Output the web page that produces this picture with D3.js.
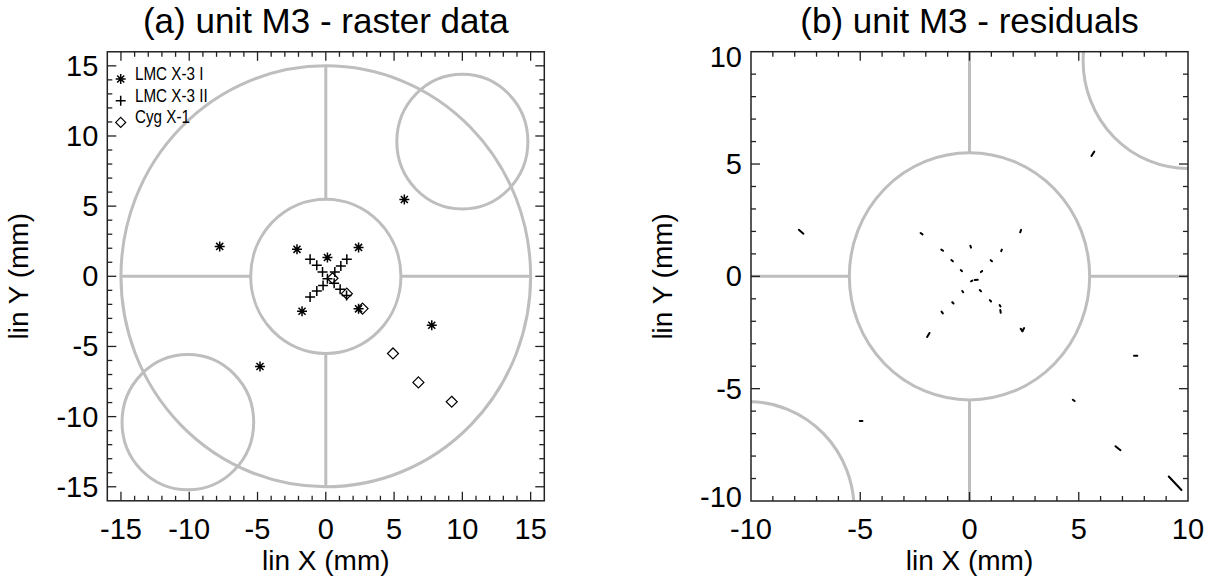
<!DOCTYPE html>
<html>
<head>
<meta charset="utf-8">
<script src="https://cdn.jsdelivr.net/npm/d3@7"></script>
<style>
  html, body { margin: 0; padding: 0; background: #fff; }
  svg { display: block; }
  text { font-family: "Liberation Sans", Arial, Helvetica, sans-serif; fill: #000; }
</style>
</head>
<body>
<svg id="chart" width="1215" height="577"></svg>
<script>
// ---------------- data ----------------
const leftTicks = [-15, -10, -5, 0, 5, 10, 15];
const rightTicks = [-10, -5, 0, 5, 10];
const leftDomain = [-16, 16];
const rightDomain = [-10, 10];

const seriesNames = ["LMC X-3 I", "LMC X-3 II", "Cyg X-1"];

// (a) raster data positions (mm)
const lmc1X = [5.75, -7.77, -2.11, 2.40, 0.12, -1.74, 2.40, 7.76, -4.82];
const lmc1Y = [5.47, 2.13, 1.92, 2.06, 1.34, -2.49, -2.32, -3.49, -6.43];
const lmc2X = [-1.15, -0.66, -0.24, 1.54, 1.10, 0.66, 0.12, -0.20, -0.66, -1.15, 0.61, 1.05, 1.52];
const lmc2Y = [1.22, 0.79, 0.31, 1.22, 0.74, 0.31, -0.17, -0.65, -1.05, -1.48, -0.50, -0.93, -1.36];
const cygX = [0.49, 1.54, 2.69, 4.92, 6.78, 9.22];
const cygY = [-0.14, -1.24, -2.30, -5.50, -7.56, -8.94];

// (b) residual vectors [x0, y0, x1, y1] (mm)
const resLmc1 = [
  [5.58, 5.36, 5.71, 5.55], [-7.81, 2.07, -7.60, 1.90], [-2.24, 1.93, -2.15, 1.87],
  [2.32, 1.96, 2.36, 2.07], [0.04, 1.36, 0.07, 1.28], [-1.94, -2.70, -1.83, -2.52],
  [2.34, -2.33, 2.42, -2.44], [7.53, -3.53, 7.68, -3.53], [-5.02, -6.44, -4.90, -6.44]
];
const resLmc2 = [
  [-1.29, 1.19, -1.21, 1.14], [-0.83, 0.73, -0.76, 0.67], [-0.40, 0.28, -0.34, 0.23],
  [1.45, 1.12, 1.48, 1.19], [0.97, 0.72, 1.03, 0.67], [0.52, 0.19, 0.58, 0.24],
  [0.07, -0.22, 0.13, -0.19], [-0.33, -0.65, -0.29, -0.71], [-0.79, -1.15, -0.73, -1.21],
  [-1.28, -1.57, -1.22, -1.65], [0.47, -0.61, 0.53, -0.67], [0.93, -1.06, 0.99, -1.12],
  [1.38, -1.28, 1.42, -1.34]
];
const resCyg = [
  [0.24, -0.16, 0.38, -0.15], [1.41, -1.50, 1.43, -1.62], [2.42, -2.44, 2.50, -2.30],
  [4.73, -5.49, 4.81, -5.55], [6.68, -7.56, 6.91, -7.74], [9.12, -8.91, 9.70, -9.51]
];

// detector outline geometry (mm)
const outerRadius = 15;
const innerRadius = 5.5;
const smallCircles = [[10.0, 9.6, 4.8], [-10.1, -10.4, 4.82]];

// ---------------- drawing ----------------
const svg = d3.select("#chart");
const GRAY = "#bebebe";
const FRAME = "#222";

const panels = [
  { id: "a", x0: 107.3, x1: 544.3, y0: 51.8, y1: 500.8, domain: leftDomain, ticks: leftTicks,
    title: "(a) unit M3 - raster data" },
  { id: "b", x0: 751, x1: 1188, y0: 51.7, y1: 501, domain: rightDomain, ticks: rightTicks,
    title: "(b) unit M3 - residuals" }
];

const asteriskPath = (h) => {
  const d = h * 0.7071;
  return `M${-h},0L${h},0M0,${-h}L0,${h}M${-d},${-d}L${d},${d}M${-d},${d}L${d},${-d}`;
};
const plusPath = (h) => `M${-h},0L${h},0M0,${-h}L0,${h}`;
const diamondPath = (h) => `M0,${-h}L${h},0L0,${h}L${-h},0Z`;

panels.forEach(p => {
  const x = d3.scaleLinear().domain(p.domain).range([p.x0, p.x1]);
  const y = d3.scaleLinear().domain(p.domain).range([p.y1, p.y0]);
  p.x = x; p.y = y;
  const g = svg.append("g");

  const clipId = "clip-" + p.id;
  svg.append("clipPath").attr("id", clipId)
    .append("rect").attr("x", p.x0).attr("y", p.y0)
    .attr("width", p.x1 - p.x0).attr("height", p.y1 - p.y0);

  const shapes = g.append("g").attr("clip-path", `url(#${clipId})`)
    .attr("fill", "none").attr("stroke", GRAY).attr("stroke-width", 3);

  const rx = r => x(r) - x(0);
  const ry = r => y(0) - y(r);

  shapes.append("ellipse").attr("cx", x(0)).attr("cy", y(0))
    .attr("rx", rx(outerRadius)).attr("ry", ry(outerRadius));
  shapes.append("ellipse").attr("cx", x(0)).attr("cy", y(0))
    .attr("rx", rx(innerRadius)).attr("ry", ry(innerRadius));
  const spokes = [
    [-outerRadius, 0, -innerRadius, 0], [innerRadius, 0, outerRadius, 0],
    [0, -outerRadius, 0, -innerRadius], [0, innerRadius, 0, outerRadius]
  ];
  shapes.selectAll("line.spoke").data(spokes).enter().append("line")
    .attr("x1", d => x(d[0])).attr("y1", d => y(d[1]))
    .attr("x2", d => x(d[2])).attr("y2", d => y(d[3]));
  shapes.selectAll("ellipse.small").data(smallCircles).enter().append("ellipse")
    .attr("cx", d => x(d[0])).attr("cy", d => y(d[1]))
    .attr("rx", d => rx(d[2])).attr("ry", d => ry(d[2]));

  g.append("rect").attr("x", p.x0).attr("y", p.y0)
    .attr("width", p.x1 - p.x0).attr("height", p.y1 - p.y0)
    .attr("fill", "none").attr("stroke", FRAME).attr("stroke-width", 1.5);

  const minor = d3.range(Math.ceil(p.domain[0]), Math.floor(p.domain[1]) + 1);
  const tk = g.append("g").attr("stroke", FRAME).attr("stroke-width", 1.3);
  minor.forEach(v => {
    const len = (v % 5 === 0) ? 9 : 5;
    const px = x(v), py = y(v);
    if (px > p.x0 + 0.5 && px < p.x1 - 0.5) {
      tk.append("line").attr("x1", px).attr("x2", px).attr("y1", p.y1).attr("y2", p.y1 - len);
      tk.append("line").attr("x1", px).attr("x2", px).attr("y1", p.y0).attr("y2", p.y0 + len);
    }
    if (py > p.y0 + 0.5 && py < p.y1 - 0.5) {
      tk.append("line").attr("y1", py).attr("y2", py).attr("x1", p.x0).attr("x2", p.x0 + len);
      tk.append("line").attr("y1", py).attr("y2", py).attr("x1", p.x1).attr("x2", p.x1 - len);
    }
  });

  g.selectAll("text.xt").data(p.ticks).enter().append("text")
    .attr("x", d => x(d)).attr("y", 539)
    .attr("text-anchor", "middle").attr("font-size", 29)
    .text(d => d);
  g.selectAll("text.yt").data(p.ticks).enter().append("text")
    .attr("x", p.x0 - 9)
    .attr("y", d => Math.min(Math.max(y(d), p.y0 + 5), p.y1 - 4) + 10)
    .attr("text-anchor", "end").attr("font-size", 29)
    .text(d => d);

  g.append("text").attr("x", (p.x0 + p.x1) / 2).attr("y", 570)
    .attr("text-anchor", "middle").attr("font-size", 28).text("lin X (mm)");
  g.append("text")
    .attr("transform", `translate(${p.x0 - 79},${(p.y0 + p.y1) / 2}) rotate(-90)`)
    .attr("text-anchor", "middle").attr("font-size", 28).text("lin Y (mm)");
  g.append("text").attr("x", (p.x0 + p.x1) / 2).attr("y", 33)
    .attr("text-anchor", "middle").attr("font-size", 35).text(p.title);
});

// ---- panel (a) markers ----
const pa = panels[0];
const ma = svg.append("g").attr("fill", "none").attr("stroke", "#000").attr("stroke-width", 1.5);
ma.selectAll("path.ast").data(d3.range(lmc1X.length)).enter().append("path")
  .attr("transform", i => `translate(${pa.x(lmc1X[i])},${pa.y(lmc1Y[i])})`)
  .attr("d", asteriskPath(5));
ma.selectAll("path.plus").data(d3.range(lmc2X.length)).enter().append("path")
  .attr("transform", i => `translate(${pa.x(lmc2X[i])},${pa.y(lmc2Y[i])})`)
  .attr("d", plusPath(5));
ma.selectAll("path.dia").data(d3.range(cygX.length)).enter().append("path")
  .attr("transform", i => `translate(${pa.x(cygX[i])},${pa.y(cygY[i])})`)
  .attr("stroke-width", 1.2)
  .attr("d", diamondPath(5.5));

// legend
const legendSyms = [asteriskPath(5), plusPath(5), diamondPath(5)];
const leg = svg.append("g");
seriesNames.forEach((name, i) => {
  const yb = 80 + i * 21.7;
  leg.append("path").attr("transform", `translate(120.7,${yb - 1})`)
    .attr("d", legendSyms[i]).attr("fill", "none").attr("stroke", "#000")
    .attr("stroke-width", i === 2 ? 1.2 : 1.5);
  const t = leg.append("text").attr("x", 135).attr("y", yb)
    .attr("font-size", 19).text(name);
  const w = t.node().getComputedTextLength();
  t.attr("textLength", w * 0.8).attr("lengthAdjust", "spacingAndGlyphs");
});

// ---- panel (b) residuals ----
const pb = panels[1];
const mb = svg.append("g").attr("stroke", "#000").attr("stroke-width", 2).attr("stroke-linecap", "round");
[resLmc1, resLmc2, resCyg].forEach(arr => {
  mb.selectAll(null).data(arr).enter().append("line")
    .attr("x1", d => pb.x(d[0])).attr("y1", d => pb.y(d[1]))
    .attr("x2", d => pb.x(d[2])).attr("y2", d => pb.y(d[3]));
});
</script>
</body>
</html>
